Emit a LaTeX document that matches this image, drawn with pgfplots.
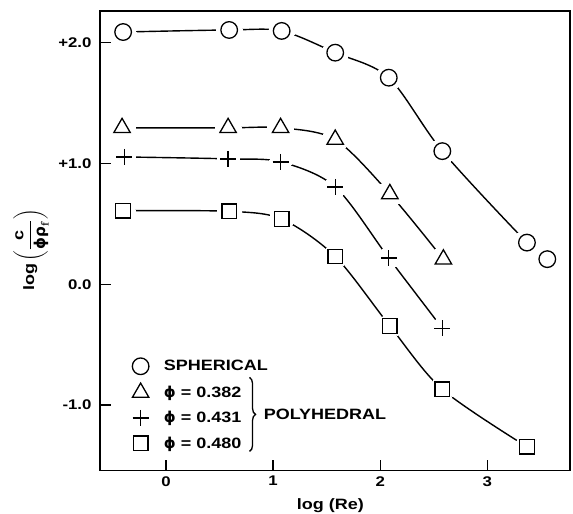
\documentclass[border=0pt]{standalone}
\usepackage{fontspec}
\setmainfont{Liberation Sans}[FakeStretch=1.2]
\newfontfamily\phifont{DejaVu Sans}
\usepackage{amsmath}
\usepackage{pgfplots}
\usepackage{pgfplotstable}
\pgfplotsset{compat=1.18}
\usetikzlibrary{decorations.pathreplacing}

% log(Re), log(c/phi rho_f)
\pgfplotstableread{
x y
-0.40 2.088
0.59 2.105
1.08 2.097
1.58 1.917
2.08 1.710
2.58 1.102
3.37 0.345
3.56 0.208
}\spherical
\pgfplotstableread{
x y
-0.41 1.295
0.58 1.295
1.07 1.295
1.58 1.198
2.09 0.748
2.59 0.207
}\phiA
\pgfplotstableread{
x y
-0.39 1.054
0.58 1.038
1.07 1.013
1.58 0.806
2.08 0.217
2.58 -0.364
}\phiB
\pgfplotstableread{
x y
-0.40 0.609
0.59 0.604
1.08 0.540
1.58 0.230
2.09 -0.345
2.58 -0.870
3.37 -1.345
}\phiC

\newcommand\ph{{\phifont ϕ}}
\pgfplotsset{
  curve/.style={black, line width=1.4pt, smooth, tension=0.5, no marks, forget plot},
  halo/.style={only marks, mark=*, mark size=#1, mark options={fill=white, draw=white, line width=0pt}, forget plot},
  pts/.style={only marks, black, mark options={line width=1.3pt, fill=white}},
}

\begin{document}
\bfseries\boldmath
\begin{tikzpicture}
\useasboundingbox (-100pt,-43.3pt) rectangle (473pt,470.7pt);
\begin{axis}[
  scale only axis, width=470pt, height=459.7pt,
  xmin=-0.616, xmax=3.772, ymin=-1.543, ymax=2.262,
  axis line style={line width=1.6pt},
  tick align=inside, xtick pos=left, ytick pos=left,
  major tick length=11pt, tick style={line width=1.3pt, black},
  xtick={0,1,2,3}, xticklabels={0,1,2,3},
  ytick={-1,0,1,2}, yticklabels={-1.0,0.0,+1.0,+2.0},
  tick label style={font=\fontsize{14}{16}\selectfont\bfseries},
  xticklabel style={yshift=-2pt},
  yticklabel style={xshift=-5pt},
  xlabel={log (Re)},
  ylabel={log\,$\left(\dfrac{\textbf{c}}{\text{\phifont ϕρ}_{\mathbf{f}}}\right)$},
  every axis x label/.style={at={(axis description cs:0.49,0)}, yshift=-34.5pt, anchor=center,
    font=\fontsize{15}{17}\selectfont\bfseries},
  every axis y label/.style={at={(axis description cs:0,0.48)}, xshift=-69pt, anchor=center, rotate=90,
    font=\fontsize{15}{17}\selectfont\bfseries},
  legend style={draw=none, fill=none, font=\fontsize{15}{17}\selectfont\bfseries,
    at={(axis description cs:0.062,0.25)}, anchor=north west,
    row sep=8.5pt, legend cell align=left,
    /tikz/every odd column/.append style={column sep=13pt}},
]
  \addplot[curve] table {\spherical};
  \addplot[halo=13pt] table {\spherical};
  \addplot[pts, mark=*, mark size=8.3pt] table {\spherical};
  \addlegendentry{SPHERICAL}

  \addplot[curve] table {\phiA};
  \addplot[halo=13pt] table {\phiA};
  \addplot[pts, mark=triangle, mark size=9.5pt] table {\phiA};
  \addlegendentry{\ph\ = 0.382}

  \addplot[curve] table {\phiB};
  \addplot[halo=11pt] table {\phiB};
  \addplot[pts, mark=+, mark size=8pt] table {\phiB};
  \addlegendentry{\ph\ = 0.431}

  \addplot[curve] table {\phiC};
  \addplot[halo=12pt] table {\phiC};
  \addplot[pts, mark=square, mark size=7.3pt] table {\phiC};
  \addlegendentry{\ph\ = 0.480}

  \draw[line width=1.3pt, decorate, decoration={brace, amplitude=6pt}]
    (axis cs:0.78,-0.771) -- (axis cs:0.78,-1.383);
  \node[anchor=west, font=\fontsize{15}{17}\selectfont\bfseries]
    at (axis cs:0.88,-1.077) {POLYHEDRAL};
\end{axis}
\end{tikzpicture}
\end{document}
